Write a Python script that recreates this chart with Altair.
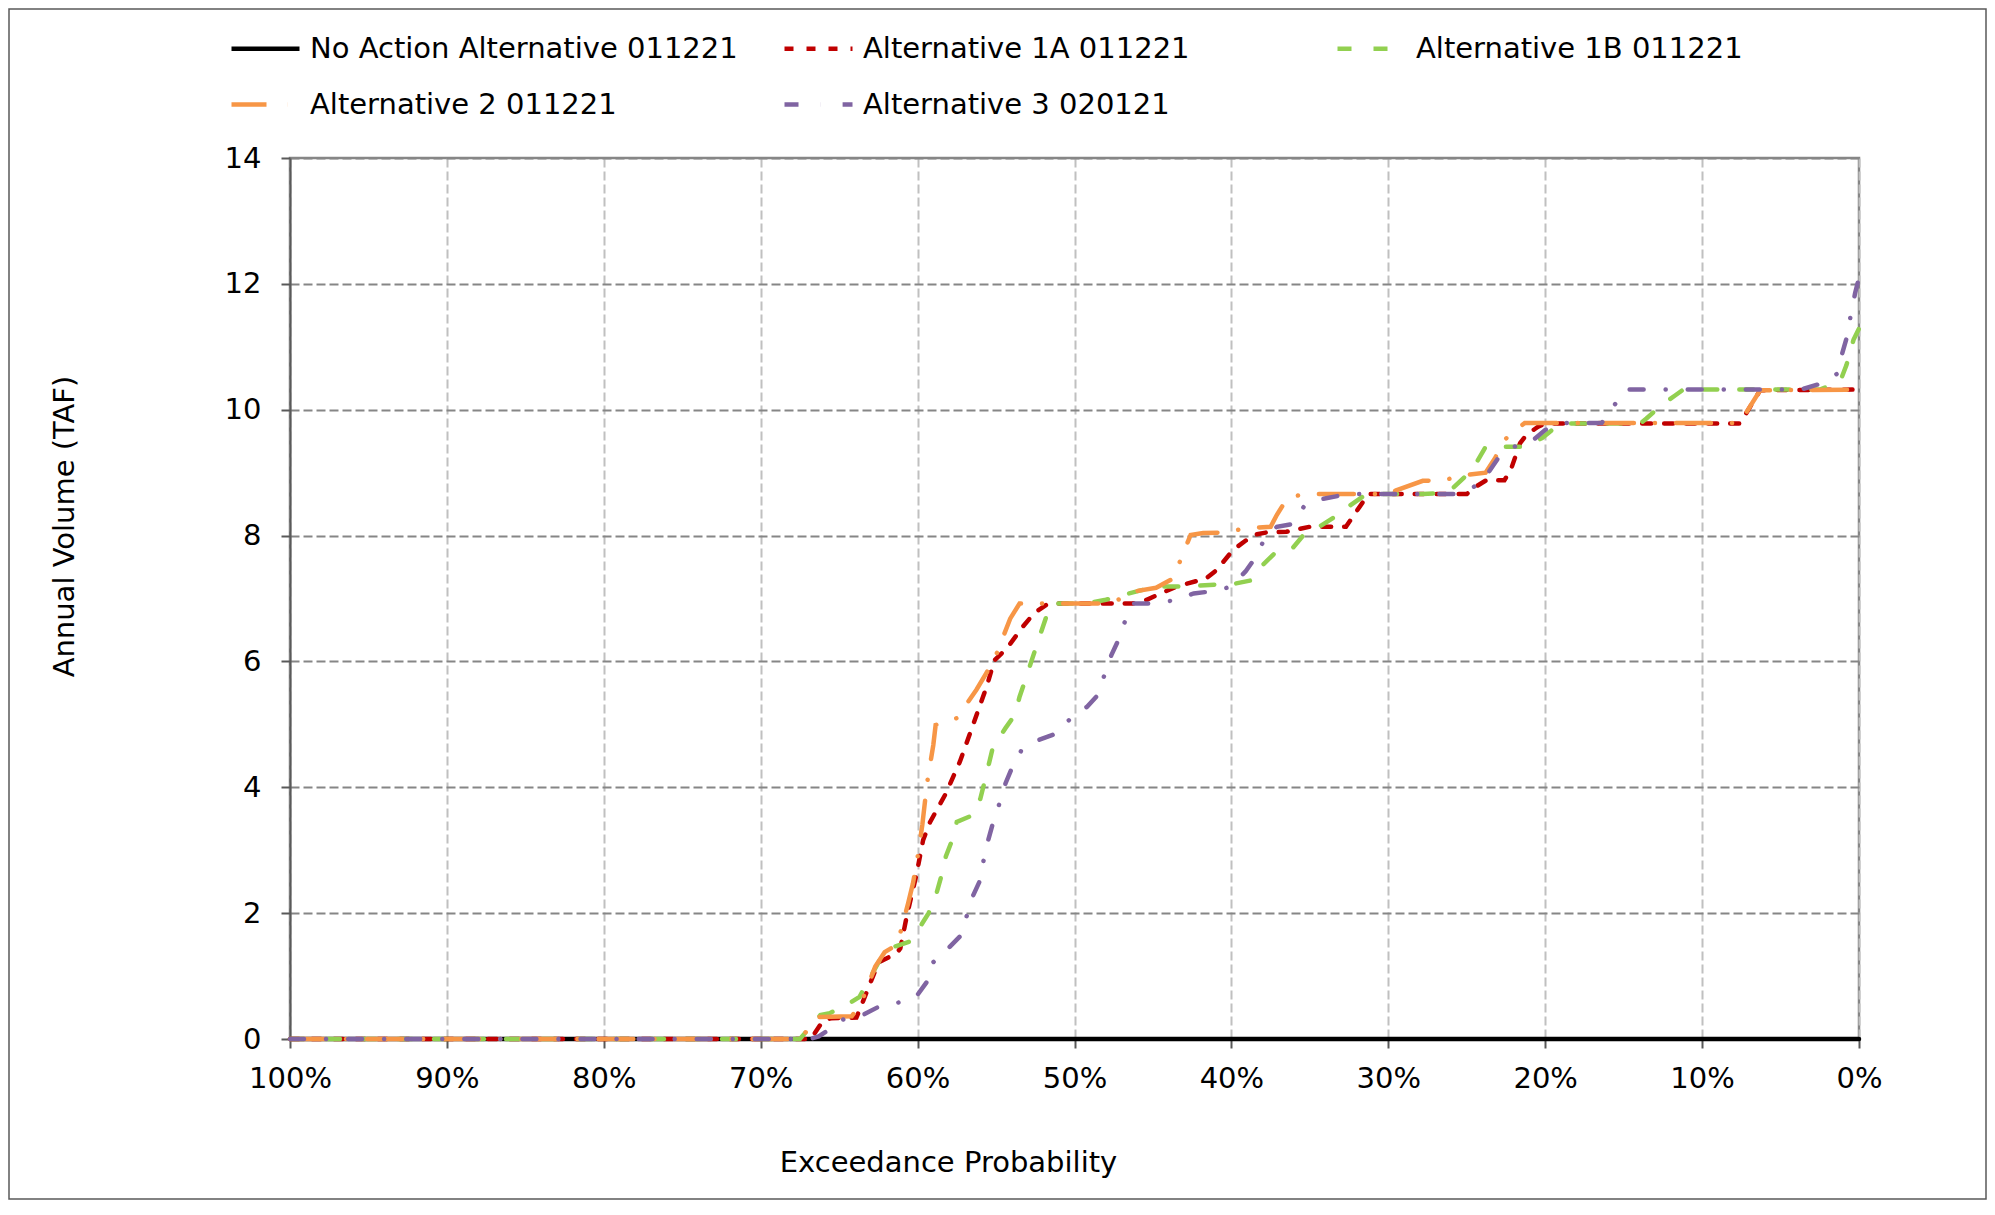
import altair as alt
import pandas as pd

# ---------------- data ----------------
series = [
    "No Action Alternative 011221",
    "Alternative 1A 011221",
    "Alternative 1B 011221",
    "Alternative 2 011221",
    "Alternative 3 020121",
]
colors = ["#000000", "#C00000", "#92D050", "#F79646", "#8064A2"]
dashes = [[1, 0], [9, 13], [14, 22], [35, 21, 0.1, 21], [14, 22, 0.1, 22]]

noaction_p = [100, 0]
noaction_v = [0, 0]

alt1a_p = [100, 66.8, 66.0, 65.5, 63.9, 63.7, 62.6, 62.4, 61.35, 61.1, 60.7, 60.06, 59.65, 59.2,
           58.2, 57.3, 56.2, 55.6, 55.1, 54.3, 53.3, 52.6, 51.8, 51.3, 46.3, 45.4, 43.5, 41.6,
           40.95, 39.9, 38.6, 37.75, 36.5, 35.0, 32.7, 31.6, 31.3, 25.0, 24.4, 23.75, 22.6, 22.2,
           21.6, 21.2, 20.45, 20.0, 7.6, 7.2, 6.3, 0]
alt1a_v = [0, 0, 0.30, 0.33, 0.34, 0.46, 1.15, 1.23, 1.36, 1.44, 1.94, 2.63, 3.16, 3.45,
           3.90, 4.41, 5.18, 5.60, 6.02, 6.21, 6.55, 6.76, 6.90, 6.92, 6.92, 6.98, 7.19, 7.32,
           7.45, 7.77, 8.01, 8.05, 8.06, 8.14, 8.14, 8.54, 8.66, 8.66, 8.78, 8.88, 8.88, 9.04,
           9.47, 9.60, 9.73, 9.78, 9.78, 9.94, 10.31, 10.32]

alt1b_p = [100, 67.5, 66.2, 65.6, 64.4, 63.7, 63.1, 62.4, 61.45, 60.5, 59.85, 59.3, 58.8, 58.5,
           58.2, 57.8, 57.5, 56.45, 56.0, 55.7, 55.4, 55.2, 54.4, 53.8, 53.5, 53.1, 52.75, 52.3,
           51.8, 51.5, 51.4, 49.3, 48.0, 46.7, 44.8, 43.0, 41.0, 39.9, 38.7, 38.1, 37.2, 36.2,
           35.3, 34.4, 33.4, 32.55, 31.4, 27.8, 27.0, 25.9, 25.1, 24.4, 23.8, 21.3, 20.2, 19.3,
           18.85, 13.95, 13.55, 12.6, 11.7, 11.2, 2.5, 1.2, 0.8, 0.35, 0]
alt1b_v = [0, 0, 0.38, 0.41, 0.56, 0.67, 0.94, 1.26, 1.47, 1.55, 1.78, 2.00, 2.31, 2.58,
           2.90, 3.16, 3.45, 3.56, 3.82, 4.12, 4.43, 4.64, 4.94, 5.15, 5.44, 5.73, 6.00, 6.34,
           6.71, 6.87, 6.92, 6.92, 6.98, 7.07, 7.19, 7.19, 7.22, 7.23, 7.29, 7.51, 7.73, 7.77,
           8.04, 8.14, 8.30, 8.46, 8.66, 8.66, 8.67, 8.75, 8.94, 9.15, 9.41, 9.41, 9.55, 9.73,
           9.78, 9.78, 9.86, 10.07, 10.23, 10.32, 10.32, 10.45, 10.71, 11.11, 11.29]

alt2_p = [100, 67.5, 66.3, 64.2, 63.6, 62.7, 62.1, 61.3, 60.6, 60.3, 60.06, 59.7, 59.4, 59.0,
          58.85, 57.7, 57.5, 56.25, 55.6, 55.0, 54.1, 53.5, 48.2, 47.1, 46.25, 44.8, 43.7, 43.2,
          42.6, 41.8, 40.4, 39.0, 37.5, 37.1, 36.4, 35.2, 30.0, 29.5, 27.8, 26.45, 25.2, 23.8,
          23.2, 22.6, 21.6, 21.3, 7.6, 6.3, 0]
alt2_v = [0, 0, 0.35, 0.36, 0.57, 1.15, 1.38, 1.50, 2.16, 2.47, 2.79, 3.40, 4.06, 4.67,
          4.99, 5.08, 5.10, 5.55, 5.82, 6.10, 6.68, 6.92, 6.92, 6.99, 7.11, 7.17, 7.32, 7.64,
          8.01, 8.04, 8.05, 8.12, 8.14, 8.33, 8.61, 8.66, 8.66, 8.72, 8.87, 8.88, 8.96, 9.00,
          9.23, 9.52, 9.73, 9.79, 9.79, 10.31, 10.32]

alt3_p = [100, 66.9, 66.3, 65.7, 64.75, 63.5, 62.5, 61.2, 60.1, 59.4, 59.0, 58.05, 57.3, 56.9,
          56.5, 56.0, 55.8, 55.5, 55.2, 54.8, 54.4, 54.0, 53.4, 52.3, 51.2, 50.3, 49.2, 48.5,
          48.1, 47.65, 47.2, 46.75, 46.3, 45.0, 43.7, 42.4, 41.4, 40.1, 39.1, 38.5, 37.9, 37.1,
          36.2, 35.35, 34.25, 33.2, 31.9, 25.75, 24.5, 23.6, 23.0, 22.0, 20.9, 20.0, 18.8, 16.4,
          15.6, 14.9, 3.7, 2.5, 1.4, 1.1, 0.8, 0.55, 0.25, 0]
alt3_v = [0, 0, 0.04, 0.14, 0.31, 0.38, 0.51, 0.58, 0.67, 0.91, 1.22, 1.44, 1.63, 1.93,
          2.26, 2.53, 2.83, 3.16, 3.43, 3.73, 4.06, 4.30, 4.58, 4.75, 4.85, 5.08, 5.28, 5.47,
          5.78, 6.10, 6.34, 6.66, 6.92, 6.92, 6.97, 7.08, 7.11, 7.18, 7.43, 7.64, 7.94, 8.14,
          8.18, 8.47, 8.58, 8.63, 8.66, 8.66, 8.78, 9.01, 9.23, 9.41, 9.49, 9.68, 9.79, 9.79,
          10.07, 10.32, 10.32, 10.41, 10.57, 10.87, 11.13, 11.47, 11.85, 12.10]

x_ticks = list(range(0, 101, 10))
y_ticks = list(range(0, 15, 2))

rows = []
for name, ps, vs in zip(series,
                        [noaction_p, alt1a_p, alt1b_p, alt2_p, alt3_p],
                        [noaction_v, alt1a_v, alt1b_v, alt2_v, alt3_v]):
    for i, (p, v) in enumerate(zip(ps, vs)):
        rows.append({"series": name, "p": p, "v": v, "i": i})
df = pd.DataFrame(rows)

# ---------------- layout ----------------
W, H = 1569, 881
PL, PT, PR, PB = 282, 150, 128, 161
FONT = "DejaVu Sans"

lines = alt.Chart(df).mark_line(strokeWidth=4.5, strokeCap="round", clip=False).encode(
    x=alt.X("p:Q",
            scale=alt.Scale(domain=[0, 100], reverse=True, nice=False),
            axis=alt.Axis(values=x_ticks, labelExpr="datum.value + '%'",
                          title="Exceedance Probability")),
    y=alt.Y("v:Q",
            scale=alt.Scale(domain=[0, 14], nice=False),
            axis=alt.Axis(values=y_ticks, title="Annual Volume (TAF)")),
    color=alt.Color("series:N", scale=alt.Scale(domain=series, range=colors),
                    legend=alt.Legend(title=None)),
    strokeDash=alt.StrokeDash("series:N", scale=alt.Scale(domain=series, range=dashes),
                              legend=alt.Legend(title=None)),
    order=alt.Order("i:Q"),
)

border = alt.Chart(pd.DataFrame({"z": [0]})).mark_rect(
    fill="white", fillOpacity=0, stroke="#595959", strokeWidth=1.5
).encode(
    x=alt.value(-PL + 1), x2=alt.value(W + PR - 1),
    y=alt.value(-PT + 1), y2=alt.value(H + PB - 1),
)

chart = alt.layer(border, lines).properties(
    width=W, height=H,
    autosize=alt.AutoSizeParams(type="none"),
    padding={"left": PL, "top": PT, "right": PR, "bottom": PB},
    background="white",
).configure_view(
    stroke="#868686", strokeWidth=2.5
).configure_axis(
    labelFont=FONT, labelFontSize=29, labelColor="black",
    titleFont=FONT, titleFontSize=29, titleFontWeight="normal", titleColor="black",
    tickColor="#595959", tickSize=9, tickWidth=2,
    domainColor="#595959", domainWidth=2,
    gridDash=[9, 4], gridWidth=2,
).configure_axisX(
    gridColor="#c0c0c0", labelPadding=16, labelFlush=False, labelOverlap=False,
    titleX=658, titleY=123, titleBaseline="middle", titleAlign="center",
).configure_axisY(
    gridColor="#868686", labelPadding=20,
    titleX=-226, titleY=368, titleAngle=270, titleBaseline="middle", titleAlign="center",
).configure_legend(
    orient="none", direction="horizontal", legendX=-61, legendY=-146, columns=3,
    columnPadding=37, rowPadding=4, gridAlign="all", padding=0,
    labelFont=FONT, labelFontSize=29, labelColor="black", labelLimit=0, labelOffset=8,
    symbolSize=4624, symbolStrokeWidth=4.5, symbolType="stroke",
)

chart.save("out.html", embed_options={"renderer": "svg", "actions": False})
